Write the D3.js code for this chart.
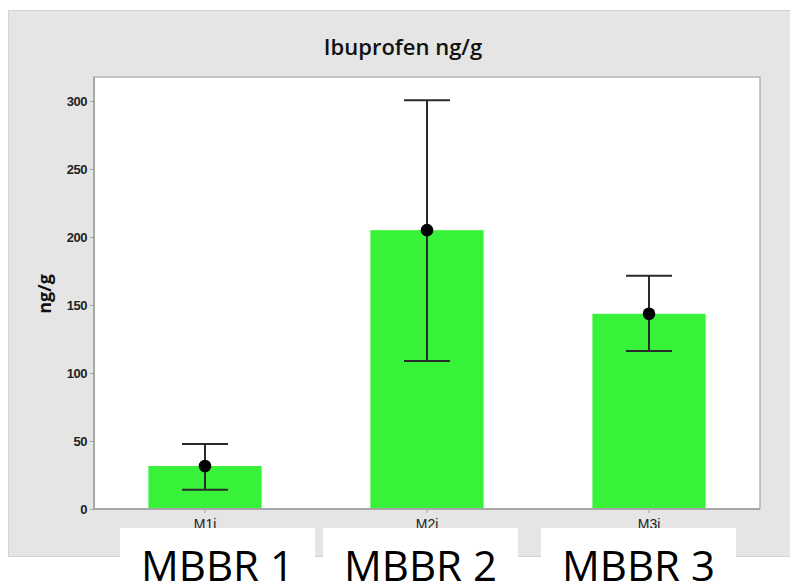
<!DOCTYPE html>
<meta charset="utf-8">
<style>
body { margin: 0; background: #fff; }
svg { display: block; font-family: "Open Sans", "Noto Sans", sans-serif; }
.axis path { display: none; }
.axis line { stroke: #a0a0a0; }
.axis text { fill: #222; }
</style>
<svg width="790" height="585"></svg>
<script src="https://d3js.org/d3.v7.min.js"></script>
<script>
var categories = ["M1i", "M2i", "M3i"],
    means = [31.6, 205, 143.5],
    upper = [47.8, 300.5, 171.5],
    lower = [14.2, 108.8, 116.2],
    yTicks = [0, 50, 100, 150, 200, 250, 300],
    boxLabels = ["MBBR 1", "MBBR 2", "MBBR 3"];

var svg = d3.select("svg"),
    margin = {top: 77, right: 30, bottom: 76, left: 94},
    width = 790 - margin.left - margin.right,
    height = 585 - margin.top - margin.bottom;

// grey panel behind everything
svg.append("rect")
    .attr("x", 8.5).attr("y", 10.5)
    .attr("width", 790).attr("height", 546)
    .attr("fill", "#e5e5e5")
    .attr("stroke", "#d2d2d2");

var g = svg.append("g")
    .attr("transform", "translate(" + margin.left + "," + margin.top + ")");

var x = d3.scaleBand()
    .domain(categories)
    .range([0, width])
    .paddingInner(0.49)
    .paddingOuter(0.245);

var y = d3.scaleLinear()
    .domain([0, 317.6])
    .range([height, 0]);

g.append("rect")
    .attr("width", width)
    .attr("height", height)
    .attr("fill", "#fff");

g.selectAll(".bar")
    .data(categories)
  .enter().append("rect")
    .attr("class", "bar")
    .attr("x", function(d) { return x(d); })
    .attr("y", function(d, i) { return y(means[i]); })
    .attr("width", x.bandwidth())
    .attr("height", function(d, i) { return height - y(means[i]); })
    .attr("fill", "#37f238");

var cap = 23;
var err = g.selectAll(".err")
    .data(categories)
  .enter().append("g")
    .attr("class", "err")
    .attr("stroke", "#2a2a2a")
    .attr("stroke-width", 2);

err.append("line")
    .attr("x1", function(d) { return x(d) + x.bandwidth() / 2; })
    .attr("x2", function(d) { return x(d) + x.bandwidth() / 2; })
    .attr("y1", function(d, i) { return y(upper[i]); })
    .attr("y2", function(d, i) { return y(lower[i]); });

err.append("line")
    .attr("x1", function(d) { return x(d) + x.bandwidth() / 2 - cap; })
    .attr("x2", function(d) { return x(d) + x.bandwidth() / 2 + cap; })
    .attr("y1", function(d, i) { return y(upper[i]); })
    .attr("y2", function(d, i) { return y(upper[i]); });

err.append("line")
    .attr("x1", function(d) { return x(d) + x.bandwidth() / 2 - cap; })
    .attr("x2", function(d) { return x(d) + x.bandwidth() / 2 + cap; })
    .attr("y1", function(d, i) { return y(lower[i]); })
    .attr("y2", function(d, i) { return y(lower[i]); });

g.selectAll(".dot")
    .data(categories)
  .enter().append("circle")
    .attr("class", "dot")
    .attr("cx", function(d) { return x(d) + x.bandwidth() / 2; })
    .attr("cy", function(d, i) { return y(means[i]); })
    .attr("r", 6.3)
    .attr("fill", "#000");

// frame: lighter top/right, darker left/bottom
g.append("path")
    .attr("d", "M0," + height + "V0H" + width + "V" + height)
    .attr("fill", "none")
    .attr("stroke", "#b4b4b4")
    .attr("stroke-width", 1.5);
g.append("path")
    .attr("d", "M0,0V" + height + "H" + width)
    .attr("fill", "none")
    .attr("stroke", "#a6a6a6")
    .attr("stroke-width", 2);

g.append("g")
    .attr("class", "axis")
    .call(d3.axisLeft(y).tickValues(yTicks).tickSize(4).tickPadding(3))
    .selectAll("text")
    .style("font-size", "13px")
    .style("font-weight", 600)
    .style("letter-spacing", "-0.5px");

g.append("g")
    .attr("class", "axis")
    .attr("transform", "translate(0," + height + ")")
    .call(d3.axisBottom(x).tickSize(4).tickPadding(6))
    .selectAll("text")
    .style("font-size", "14px");

svg.append("text")
    .attr("x", 403)
    .attr("y", 55)
    .attr("text-anchor", "middle")
    .style("font-size", "22px")
    .style("font-weight", 600)
    .attr("fill", "#111")
    .text("Ibuprofen ng/g");

svg.append("text")
    .attr("transform", "translate(51,294) rotate(-90)")
    .attr("text-anchor", "middle")
    .style("font-size", "18px")
    .style("font-weight", 700)
    .attr("fill", "#111")
    .text("ng/g");

// white label boxes pasted over the bottom
var boxX = [120, 323, 541], boxW = 195;
var boxes = svg.selectAll(".box")
    .data(boxLabels)
  .enter().append("g")
    .attr("class", "box")
    .attr("transform", function(d, i) { return "translate(" + boxX[i] + ",528)"; });

boxes.append("rect")
    .attr("width", boxW)
    .attr("height", 57)
    .attr("fill", "#fff");

boxes.append("text")
    .attr("x", boxW / 2)
    .attr("y", 53)
    .attr("text-anchor", "middle")
    .style("font-size", "42px")
    .attr("fill", "#000")
    .text(function(d) { return d; });
</script>
